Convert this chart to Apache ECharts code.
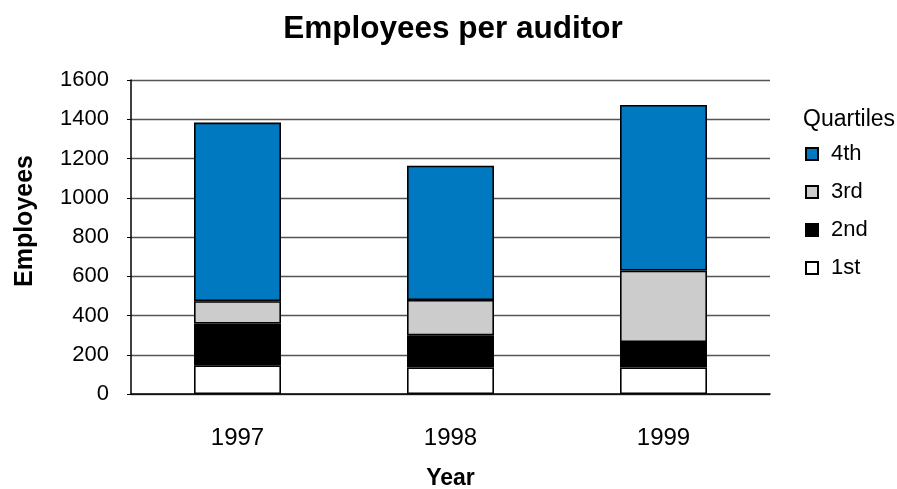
<!DOCTYPE html>
<html>
<head>
<meta charset="utf-8">
<script src="https://cdn.jsdelivr.net/npm/echarts@6/dist/echarts.min.js"></script>
<style>html,body{margin:0;padding:0;background:#fff}#c{width:897px;height:489px}</style>
</head>
<body>
<div id="c"></div>
<script>
const years = ['1997', '1998', '1999'];
const q1 = [146, 135, 135];
const q2 = [213, 164, 130];
const q3 = [114, 180, 364];
const q4 = [910, 684, 844];
const yTicks = [0, 200, 400, 600, 800, 1000, 1200, 1400, 1600];

const FONT = '"Liberation Sans", Arial, sans-serif';
const chart = echarts.init(document.getElementById('c'));
const mk = (name, data, color) => ({
  name, type: 'bar', stack: 'q', data, barWidth: 87,
  itemStyle: { color, borderColor: '#000', borderWidth: 1.6 },
  emphasis: { disabled: true }
});
chart.setOption({
  animation: false,
  textStyle: { fontFamily: FONT },
  title: {
    text: 'Employees per auditor', left: 448, top: 8, textAlign: 'center',
    textStyle: { fontSize: 31.5, fontWeight: 'bold', color: '#000', fontFamily: FONT }
  },
  grid: { left: 131, right: 127, top: 80, bottom: 95, containLabel: false, outerBoundsMode: 'none' },
  legend: {
    data: ['4th', '3rd', '2nd', '1st'], orient: 'vertical', left: 800, top: 138,
    icon: 'rect', itemWidth: 12, itemHeight: 12, itemGap: 16,
    textStyle: { fontSize: 22, color: '#000', fontFamily: FONT, padding: [0, 0, 0, 8] }
  },
  xAxis: {
    type: 'category', data: years,
    axisLine: { lineStyle: { color: '#000', width: 1.5 } },
    axisTick: { show: false },
    axisLabel: { fontSize: 24, color: '#000', margin: 32 },
    name: 'Year', nameLocation: 'middle', nameGap: 73,
    nameTextStyle: { fontSize: 23, fontWeight: 'bold', color: '#000' }
  },
  yAxis: {
    type: 'value', min: 0, max: 1600, interval: 200,
    axisLine: { show: true, lineStyle: { color: '#000', width: 1.5 } },
    axisTick: { show: true, length: 4, lineStyle: { color: '#000' } },
    axisLabel: { fontSize: 22, color: '#000', margin: 22,
      formatter: v => yTicks.includes(v) ? String(v) : '' },
    splitLine: { lineStyle: { color: '#555', width: 1.3 } }
  },
  graphic: [
    { type: 'text', x: 803, y: 108, style: { text: 'Quartiles', fontSize: 23, fill: '#000', fontFamily: FONT } },
    { type: 'text', x: 25, y: 221, rotation: Math.PI / 2, style: { text: 'Employees', fontSize: 25, fontWeight: 'bold', fill: '#000', fontFamily: FONT, align: 'center', verticalAlign: 'middle' } }
  ],
  series: [
    mk('1st', q1, '#ffffff'),
    mk('2nd', q2, '#000000'),
    mk('3rd', q3, '#cccccc'),
    mk('4th', q4, '#0079c1')
  ]
});
</script>
</body>
</html>
